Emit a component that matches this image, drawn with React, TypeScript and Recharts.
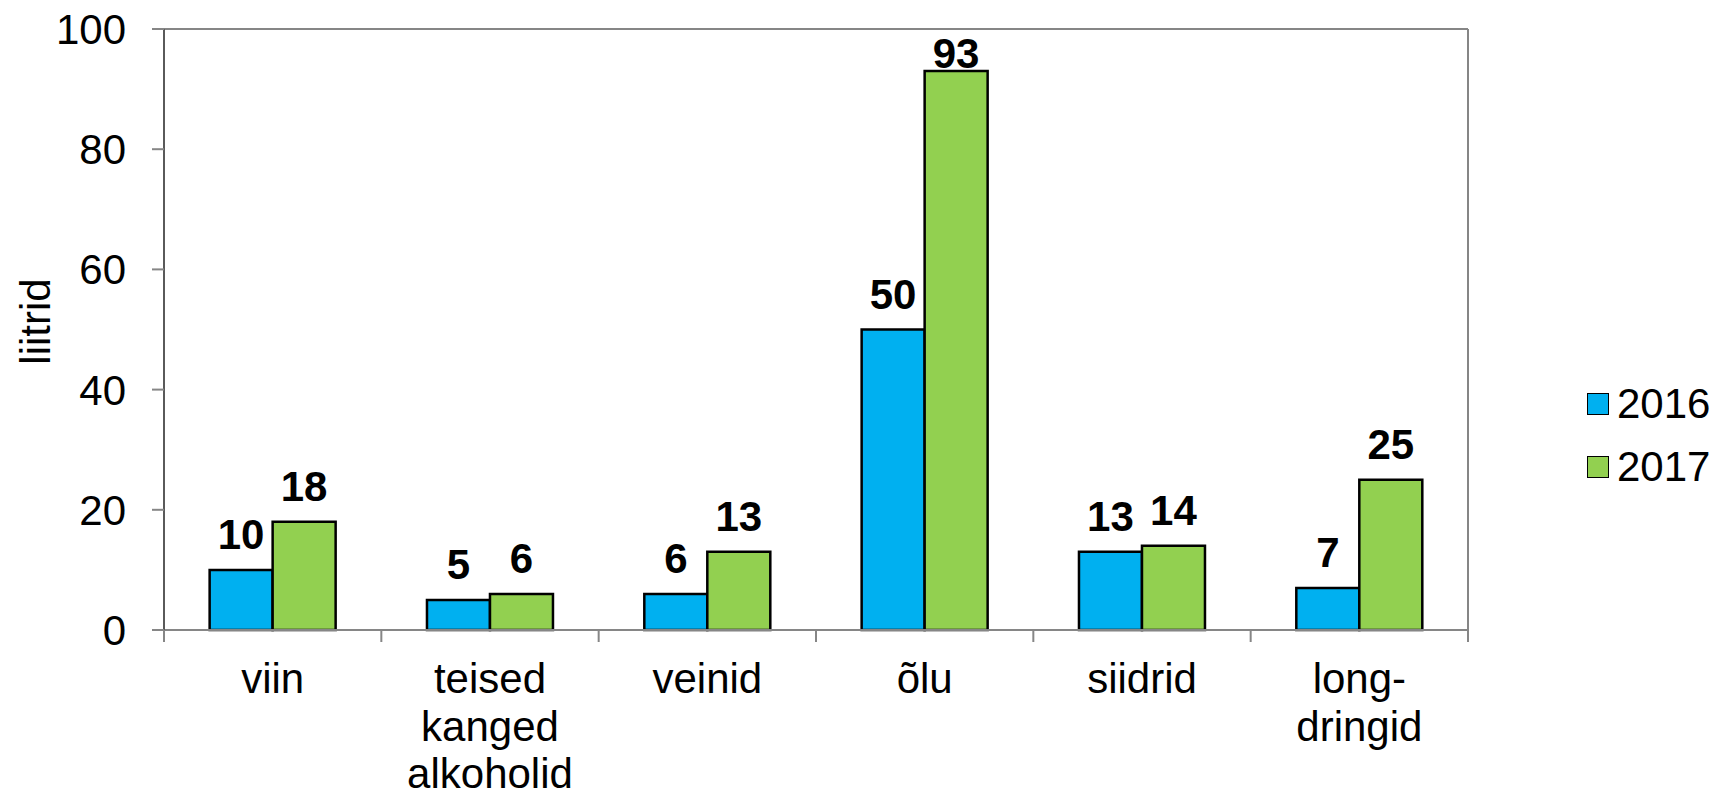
import React from "react";
import {
  Bar,
  BarChart,
  CartesianGrid,
  LabelList,
  ReferenceLine,
  XAxis,
  YAxis,
} from "recharts";

const categories = [
  "viin",
  "teised\nkanged\nalkoholid",
  "veinid",
  "õlu",
  "siidrid",
  "long-\ndringid",
];
const values2016 = [10, 5, 6, 50, 13, 7];
const values2017 = [18, 6, 13, 93, 14, 25];
const yTicks = [0, 20, 40, 60, 80, 100];
const boundaryTicks = [0, 1, 2, 3, 4, 5, 6];
const seriesNames = ["2016", "2017"];
const seriesColors = ["#00b0f0", "#92d050"];

const data = categories.map((name, i) => ({
  name,
  pos: i + 0.5,
  y2016: values2016[i],
  y2017: values2017[i],
}));

const FONT = "'Liberation Sans', Arial, sans-serif";
const BORDER = "#868686";

function CategoryTick(props: any) {
  const { x, y, payload } = props;
  const lines = String(payload.value).split("\n");
  return (
    <text x={x} y={y} textAnchor="middle" fontFamily={FONT} fontSize={42} fill="#000">
      {lines.map((line, i) => (
        <tspan key={i} x={x} dy={i === 0 ? 62 : 47.5}>
          {line}
        </tspan>
      ))}
    </text>
  );
}

function ValueLabel(props: any) {
  const { x, y, width, value } = props;
  // the tallest label is pushed down so it stays inside the plot
  const baseline = Math.max(y - 21, 68);
  return (
    <text
      x={x + width / 2}
      y={baseline}
      textAnchor="middle"
      fontFamily={FONT}
      fontSize={42}
      fontWeight="bold"
      fill="#000"
    >
      {value}
    </text>
  );
}

function AxisTitle(props: any) {
  const { viewBox } = props;
  const cy = viewBox.y + viewBox.height / 2 - 8;
  return (
    <text
      x={50}
      y={cy}
      transform={`rotate(-90, 50, ${cy})`}
      textAnchor="middle"
      fontFamily={FONT}
      fontSize={42}
      fill="#000"
    >
      liitrid
    </text>
  );
}

export default function App() {
  return (
    <div style={{ position: "absolute", left: 0, top: 0, width: 1724, height: 797, background: "#fff" }}>
      <BarChart
        width={1724}
        height={797}
        data={data}
        margin={{ top: 29, right: 255, left: 0, bottom: 0 }}
        barCategoryGap="21%"
        barGap={0}
      >
        <CartesianGrid vertical={false} stroke="#c0c0c0" strokeWidth={2} />
        <XAxis
          dataKey="pos"
          xAxisId="bounds"
          type="number"
          domain={[0, 6]}
          ticks={boundaryTicks}
          height={1}
          tick={() => <g />}
          tickSize={12}
          tickLine={{ stroke: BORDER, strokeWidth: 2 }}
          axisLine={{ stroke: BORDER, strokeWidth: 2 }}
        />
        <XAxis
          dataKey="name"
          xAxisId="cat"
          height={166}
          tickLine={false}
          tickSize={0}
          tickMargin={0}
          axisLine={false}
          tick={<CategoryTick />}
          interval={0}
        />
        <YAxis
          yAxisId="left"
          width={164}
          domain={[0, 100]}
          ticks={yTicks}
          tickSize={12}
          tickMargin={26}
          tickLine={{ stroke: BORDER, strokeWidth: 2 }}
          axisLine={{ stroke: "#5a5a5a", strokeWidth: 2 }}
          tick={{ fontFamily: FONT, fontSize: 42, fill: "#000" }}
          label={<AxisTitle />}
        />
        <YAxis
          yAxisId="right"
          orientation="right"
          width={1}
          domain={[0, 100]}
          ticks={yTicks}
          tick={false}
          tickLine={false}
          axisLine={{ stroke: BORDER, strokeWidth: 2 }}
        />
        <ReferenceLine yAxisId="left" xAxisId="cat" y={100} stroke={BORDER} strokeWidth={2} />
        <Bar
          dataKey="y2016"
          name={seriesNames[0]}
          xAxisId="cat"
          yAxisId="left"
          fill={seriesColors[0]}
          stroke="#000"
          strokeWidth={2.5}
          isAnimationActive={false}
        >
          <LabelList dataKey="y2016" content={<ValueLabel />} />
        </Bar>
        <Bar
          dataKey="y2017"
          name={seriesNames[1]}
          xAxisId="cat"
          yAxisId="left"
          fill={seriesColors[1]}
          stroke="#000"
          strokeWidth={2.5}
          isAnimationActive={false}
        >
          <LabelList dataKey="y2017" content={<ValueLabel />} />
        </Bar>
      </BarChart>
      <div style={{ position: "absolute", left: 1587, top: 372, fontFamily: FONT, fontSize: 42, lineHeight: "63px" }}>
        {seriesNames.map((name, i) => (
          <div key={name} style={{ display: "flex", alignItems: "center", height: 63 }}>
            <span
              style={{
                display: "inline-block",
                width: 20,
                height: 20,
                background: seriesColors[i],
                border: "1.5px solid #000",
                marginRight: 8,
              }}
            />
            <span>{name}</span>
          </div>
        ))}
      </div>
    </div>
  );
}
